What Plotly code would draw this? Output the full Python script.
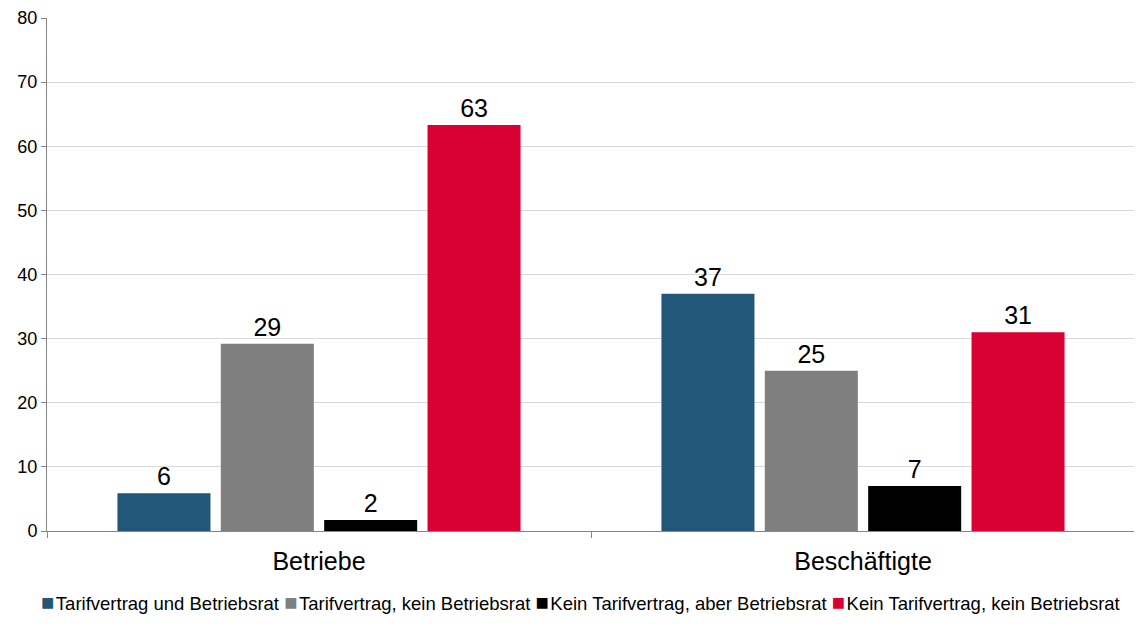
import plotly.graph_objects as go

categories = ["Betriebe", "Beschäftigte"]
series_names = [
    "Tarifvertrag und Betriebsrat",
    "Tarifvertrag, kein Betriebsrat",
    "Kein Tarifvertrag, aber Betriebsrat",
    "Kein Tarifvertrag, kein Betriebsrat",
]
tarif_und_br = [5.9, 37.0]
tarif_kein_br = [29.2, 25.0]
kein_tarif_aber_br = [1.7, 7.0]
kein_tarif_kein_br = [63.3, 31.0]
y_ticks = [0, 10, 20, 30, 40, 50, 60, 70, 80]

series_values = [tarif_und_br, tarif_kein_br, kein_tarif_aber_br, kein_tarif_kein_br]
colors = ["#22577A", "#7F7F7F", "#000000", "#D90033"]

fig = go.Figure()
for name, vals, col in zip(series_names, series_values, colors):
    fig.add_trace(go.Bar(
        x=categories,
        y=vals,
        name=name,
        marker=dict(color=col, line=dict(width=0)),
        text=[f"{v:.0f}" for v in vals],
        textposition="outside",
        textfont=dict(size=25, color="#000000"),
        cliponaxis=False,
    ))

# legend drawn as one line of text so it fits like the original
legend_text = " ".join(
    f"<span style='color:{c};font-size:22px'>■</span>\u200a{n}" for n, c in zip(series_names, colors)
)

# the page body adds an 8px margin, so the figure is 8px smaller each way
fig.update_layout(
    width=1134,
    height=633,
    barmode="group",
    bargap=0.24,
    bargroupgap=0.1,
    showlegend=False,
    plot_bgcolor="white",
    paper_bgcolor="white",
    font=dict(family="Liberation Sans, Arial, sans-serif", color="#000000"),
    margin=dict(l=39, r=7, t=10, b=110, autoexpand=False),
    xaxis=dict(
        showline=True,
        linecolor="#868686",
        linewidth=1,
        ticks="outside",
        tickson="boundaries",
        tickcolor="#868686",
        ticklen=6,
        ticklabelstandoff=8,
        tickfont=dict(size=25),
        showgrid=False,
    ),
    yaxis=dict(
        range=[0, 80],
        tickvals=y_ticks,
        showline=True,
        linecolor="#868686",
        linewidth=1,
        ticks="outside",
        tickcolor="#868686",
        ticklen=5,
        tickfont=dict(size=18),
        showgrid=True,
        gridcolor="#D9D9D9",
        zeroline=False,
    ),
    shapes=[dict(type="line", xref="paper", yref="paper", x0=1, x1=1, y0=0, y1=1,
                 line=dict(color="#D9D9D9", width=1))],
    annotations=[dict(
        text=legend_text,
        xref="paper", yref="paper",
        x=0.49, y=-0.140,
        xanchor="center", yanchor="middle",
        showarrow=False,
        font=dict(size=18.5, color="#000000"),
    )],
)

fig.write_html("out.html")
